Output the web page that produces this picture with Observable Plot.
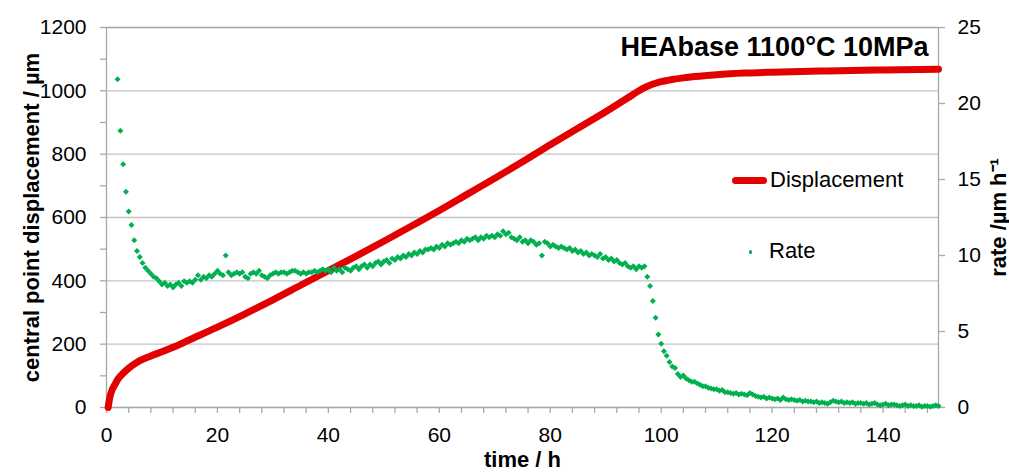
<!DOCTYPE html>
<html>
<head>
<meta charset="utf-8">
<script src="https://cdn.jsdelivr.net/npm/d3@7"></script>
<script src="https://cdn.jsdelivr.net/npm/@observablehq/plot@0.6"></script>
<style>
  body { margin: 0; background: #fff; }
  #chart { position: relative; width: 1009px; height: 472px; font-family: "Liberation Sans", Arial, sans-serif; }
  #chart svg { display: block; }
  .lg-text { position: absolute; font-size: 22px; line-height: 22px; color: #000; white-space: nowrap; }
  .lg-line { position: absolute; width: 35px; height: 7px; border-radius: 3.5px; background: #e20000; }
  .lg-dot { position: absolute; width: 3.5px; height: 3.5px; border-radius: 50%; background: #00b050; }
</style>
</head>
<body>
<div id="chart">
  <div class="lg-line" style="left:732px; top:176.5px;"></div>
  <div class="lg-text" style="left:770px; top:168.7px;">Displacement</div>
  <div class="lg-dot" style="left:748.5px; top:250px;"></div>
  <div class="lg-text" style="left:769px; top:239.7px;">Rate</div>
</div>
<script>
// Central point displacement (µm) over time (h)
const dispTime = [0.3, 0.6, 1, 1.5, 2, 3, 4, 5, 6, 8, 10, 12, 15, 20, 25, 30, 35, 40, 45, 50,
  55, 60, 65, 70, 75, 80, 85, 90, 94, 96, 97, 98, 99, 100, 102, 104, 106, 110, 115, 120, 130, 140, 150];
const dispValue = [0, 32, 55, 72, 88, 108, 124, 137, 148, 163, 176, 190, 214, 254, 296, 340, 386, 432, 478, 525,
  573, 622, 673, 724, 776, 830, 882, 934, 978, 1000, 1010, 1018, 1024, 1029, 1036, 1041, 1045, 1051, 1056, 1059, 1063, 1066, 1068];

// Displacement rate (µm/h), sampled every 0.5 h starting at 2 h
const rateStart = 2;
const rateStep = 0.5;
const rateValue = [
  21.6, 18.2, 16.0, 14.2, 12.9, 12.0, 11.0, 10.3, 9.9, 9.5,
  9.2, 9.0, 8.8, 8.6, 8.5, 8.3, 8.1, 8.2, 8.0, 8.1,
  7.9, 8.1, 8.2, 8.0, 8.3, 8.2, 8.3, 8.2, 8.4, 8.7,
  8.4, 8.6, 8.5, 8.7, 8.6, 8.8, 9.0, 8.8, 8.7, 10.0,
  8.9, 8.7, 8.8, 8.9, 8.8, 8.9, 8.6, 8.5, 8.8, 8.9,
  8.8, 9.0, 8.7, 8.6, 8.5, 8.7, 8.8, 8.9, 8.8, 8.9,
  8.9, 8.8, 8.9, 9.0, 9.0, 8.9, 8.8, 8.9, 8.8, 8.9,
  8.9, 9.0, 8.9, 9.0, 9.1, 9.0, 9.1, 8.9, 9.2, 9.0,
  9.1, 8.9, 9.2, 9.1, 9.0, 9.2, 9.3, 9.1, 9.3, 9.4,
  9.2, 9.4, 9.3, 9.5, 9.6, 9.4, 9.6, 9.7, 9.5, 9.8,
  9.7, 9.9, 9.8, 10.0, 9.9, 10.1, 10.0, 10.2, 10.1, 10.3,
  10.2, 10.4, 10.4, 10.5, 10.4, 10.6, 10.5, 10.7, 10.6, 10.8,
  10.7, 10.8, 10.9, 10.8, 11.0, 10.9, 11.1, 11.0, 11.1, 11.2,
  11.0, 11.2, 11.1, 11.3, 11.2, 11.3, 11.2, 11.4, 11.3, 11.6,
  11.4, 11.5, 11.2, 11.1, 11.0, 11.2, 10.9, 11.0, 10.8, 11.0,
  10.9, 10.7, 10.8, 10.0, 10.9, 10.8, 10.6, 10.7, 10.6, 10.5,
  10.6, 10.5, 10.4, 10.5, 10.3, 10.4, 10.2, 10.3, 10.1, 10.2,
  10.0, 10.1, 10.0, 9.9, 10.1, 9.8, 9.9, 9.7, 9.8, 9.6,
  9.7, 9.5, 9.4, 9.5, 9.3, 9.2, 9.3, 9.1, 9.3, 9.2,
  9.3, 8.6, 8.0, 7.0, 5.9, 4.8, 4.2, 3.7, 3.4, 3.0,
  2.7, 2.6, 2.2, 2.0, 2.1, 1.9, 1.8, 1.7, 1.7, 1.6,
  1.5, 1.4, 1.4, 1.3, 1.25, 1.2, 1.2, 1.1, 1.15, 1.0,
  1.0, 0.95, 0.9, 0.95, 0.85, 0.9, 0.85, 0.8, 0.95, 0.85,
  0.75, 0.7, 0.65, 0.7, 0.6, 0.65, 0.6, 0.55, 0.6, 0.5,
  0.65, 0.55, 0.5, 0.55, 0.5, 0.45, 0.5, 0.4, 0.45, 0.4,
  0.4, 0.35, 0.4, 0.3, 0.35, 0.3, 0.25, 0.35, 0.45, 0.4,
  0.35, 0.4, 0.3, 0.35, 0.3, 0.35, 0.25, 0.3, 0.3, 0.25,
  0.3, 0.2, 0.25, 0.3, 0.2, 0.15, 0.2, 0.25, 0.15, 0.2,
  0.2, 0.15, 0.1, 0.15, 0.2, 0.1, 0.15, 0.1, 0.1, 0.15,
  0.05, 0.1, 0.1, 0.05, 0.1, 0.15, 0.1
];

// Axis tick values
const dispTicks = [0, 200, 400, 600, 800, 1000, 1200];
const rateTicks = [0, 5, 10, 15, 20, 25];
const timeLabels = [0, 20, 40, 60, 80, 100, 120, 140];

const titleText = "HEAbase 1100°C 10MPa";
const xTitle = "time / h";
const yLeftTitle = "central point displacement / µm";
const yRightTitle = "rate /µm h⁻¹";

const RED = "#e20000";
const GREEN = "#00b050";
const GRID = "#c4c4c4";
const AXIS = "#a8a8a8";

// rate axis (0–25) shares the plot height with displacement (0–1200)
const k = 1200 / 25;

const displacement = dispTime.map((t, i) => ({t, v: dispValue[i]}));
const rate = rateValue.map((r, i) => ({t: rateStart + i * rateStep, r}));

const chart = Plot.plot({
  width: 1009,
  height: 472,
  marginLeft: 106,
  marginRight: 71,
  marginTop: 27,
  marginBottom: 65,
  style: {fontFamily: "Liberation Sans, Arial, sans-serif", fontSize: "21px", color: "#000", background: "#fff", overflow: "visible"},
  x: {domain: [0, 150]},
  y: {domain: [0, 1200]},
  marks: [
    Plot.gridY(dispTicks, {stroke: GRID, strokeOpacity: 1, strokeWidth: 1.3}),
    Plot.frame({stroke: AXIS, strokeWidth: 1.3}),
    Plot.axisX(d3.range(0, 150, 4), {
      tickSize: 6, tickPadding: 14, stroke: AXIS, strokeWidth: 1.3, fill: "#000", fontSize: 21, label: null,
      tickFormat: d => timeLabels.includes(d) ? String(d) : ""
    }),
    Plot.axisY(d3.range(0, 1201, 100), {
      anchor: "left", tickSize: 6, tickPadding: 14, stroke: AXIS, strokeWidth: 1.3, fill: "#000", fontSize: 21, label: null,
      tickFormat: d => dispTicks.includes(d) ? String(d) : ""
    }),
    Plot.axisY(rateTicks.map(r => r * k), {
      anchor: "right", tickSize: 6, tickPadding: 13, stroke: AXIS, strokeWidth: 1.3, fill: "#000", fontSize: 21, label: null,
      tickFormat: d => String(Math.round(d / k))
    }),
    Plot.line(displacement, {x: "t", y: "v", stroke: RED, strokeWidth: 7, curve: "monotone-x"}),
    Plot.dot(rate, {x: "t", y: d => d.r * k, symbol: "diamond2", r: 2.7, fill: GREEN, stroke: "none"}),
    Plot.text([titleText], {
      text: d => d, frameAnchor: "top-right", textAnchor: "end", lineAnchor: "middle",
      dx: -10, dy: 19.7, fontSize: 27, fontWeight: "bold", fill: "#000"
    }),
    Plot.text([xTitle], {
      text: d => d, frameAnchor: "bottom", textAnchor: "middle", lineAnchor: "middle",
      dy: 52, fontSize: 22, fontWeight: "bold", fill: "#000"
    }),
    Plot.text([yLeftTitle], {
      text: d => d, frameAnchor: "left", textAnchor: "middle", lineAnchor: "middle", rotate: -90,
      dx: -75, fontSize: 22, fontWeight: "bold", fill: "#000"
    }),
    Plot.text([yRightTitle], {
      text: d => d, frameAnchor: "right", textAnchor: "middle", lineAnchor: "middle", rotate: -90,
      dx: 60, fontSize: 22, fontWeight: "bold", fill: "#000"
    })
  ]
});

document.getElementById("chart").prepend(chart);
</script>
</body>
</html>
